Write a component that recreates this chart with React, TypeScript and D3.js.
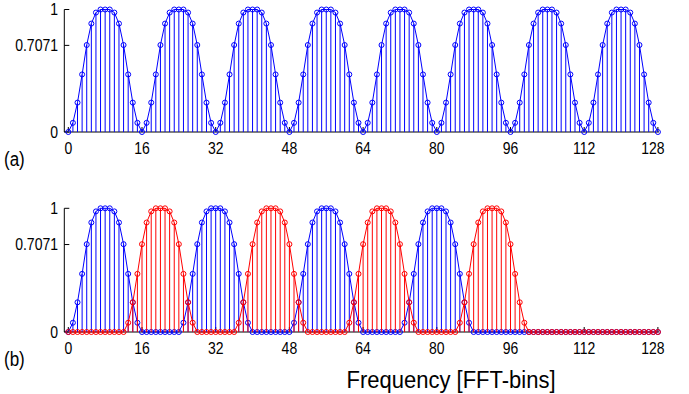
import * as d3 from 'd3';

// one bump of the window (17 bins)
const BUMP = [0, 0.075, 0.24, 0.47, 0.71, 0.885, 0.975, 1, 1, 1, 0.975, 0.885, 0.71, 0.47, 0.24, 0.075, 0];
const N_BINS = 129;
const TOP_STARTS = [0, 16, 32, 48, 64, 80, 96, 112];
const BLUE_STARTS = [0, 24, 48, 72];
const RED_STARTS = [12, 36, 60, 84];
const X_TICKS = [0, 16, 32, 48, 64, 80, 96, 112, 128];
const Y_TICKS = [0, 0.7071, 1];
const Y_TICK_LABELS = ['0', '0.7071', '1'];

function tile(starts: number[]): number[] {
  const out = new Array(N_BINS).fill(0);
  starts.forEach((s) => {
    BUMP.forEach((v, i) => {
      if (s + i < N_BINS) out[s + i] = Math.max(out[s + i], v);
    });
  });
  return out;
}

const topSeries = tile(TOP_STARTS);
const blueSeries = tile(BLUE_STARTS);
const redSeries = tile(RED_STARTS);

const FONT = "Arial, 'Liberation Sans', Helvetica, sans-serif";
const STRETCH = 1.15;

const x = d3.scaleLinear().domain([0, 128]).range([68.3, 657.9]);

function Stems({ data, y, color }: { data: number[]; y: d3.ScaleLinear<number, number>; color: string }) {
  const line = d3.line<number>().x((_, i) => x(i)).y((d) => y(d));
  return (
    <g>
      {data.map((d, i) =>
        d > 0 ? (
          <line key={'s' + i} x1={x(i)} x2={x(i)} y1={y(0)} y2={y(d)} stroke={color} strokeWidth={1} />
        ) : null
      )}
      <path d={line(data) || ''} fill="none" stroke={color} strokeWidth={1} />
      {data.map((d, i) => (
        <circle key={'c' + i} cx={x(i)} cy={y(d)} r={2.5} fill="none" stroke={color} strokeWidth={1} />
      ))}
    </g>
  );
}

function Panel({ y, label, labelY, children }: { y: d3.ScaleLinear<number, number>; label: string; labelY: number; children: any }) {
  const x0 = 64.3;
  const x1 = x(128) + 1;
  return (
    <g>
      {/* axes */}
      <line x1={x0} x2={x0} y1={y(1)} y2={y(0)} stroke="#000" strokeWidth={1} />
      <line x1={x0} x2={x1} y1={y(0)} y2={y(0)} stroke="#000" strokeWidth={1} />
      {Y_TICKS.map((t, i) => (
        <g key={'yt' + t}>
          <line x1={x0} x2={x0 + 5} y1={y(t)} y2={y(t)} stroke="#000" />
          <text
            transform={'translate(58,' + (y(t) + 5.5) + ') scale(1,' + STRETCH + ')'}
            textAnchor="end"
            fontSize={14}
            fontFamily={FONT}
            fill="#000"
          >
            {Y_TICK_LABELS[i]}
          </text>
        </g>
      ))}
      {X_TICKS.map((t) => (
        <g key={'xt' + t}>
          <line x1={x(t)} x2={x(t)} y1={y(0)} y2={y(0) - 5} stroke="#000" />
          <text
            transform={'translate(' + (t === 128 ? x(t) - 5 : x(t)) + ',' + (y(0) + 22) + ') scale(1,' + STRETCH + ')'}
            textAnchor="middle"
            fontSize={14}
            fontFamily={FONT}
            fill="#000"
          >
            {t}
          </text>
        </g>
      ))}
      {children}
      <text transform={'translate(4,' + labelY + ') scale(1,' + STRETCH + ')'} fontSize={17} fontFamily={FONT} fill="#000">
        {label}
      </text>
    </g>
  );
}

export default function App() {
  const yTop = d3.scaleLinear().domain([0, 1]).range([132, 9.5]);
  const yBot = d3.scaleLinear().domain([0, 1]).range([332, 208.3]);
  return (
    <svg
      width={689}
      height={394}
      viewBox="0 0 689 394"
      style={{ position: 'absolute', left: 0, top: 0, background: '#fff' }}
    >
      <rect width={689} height={394} fill="#fff" />
      <Panel y={yTop} label="(a)" labelY={166}>
        <Stems data={topSeries} y={yTop} color="#0000ff" />
      </Panel>
      <Panel y={yBot} label="(b)" labelY={366}>
        <Stems data={blueSeries} y={yBot} color="#0000ff" />
        <Stems data={redSeries} y={yBot} color="#ff0000" />
      </Panel>
      <text
        transform={'translate(451,388) scale(1,1.05)'}
        textAnchor="middle"
        fontSize={22}
        fontFamily={FONT}
        fill="#000"
      >
        Frequency [FFT-bins]
      </text>
    </svg>
  );
}
